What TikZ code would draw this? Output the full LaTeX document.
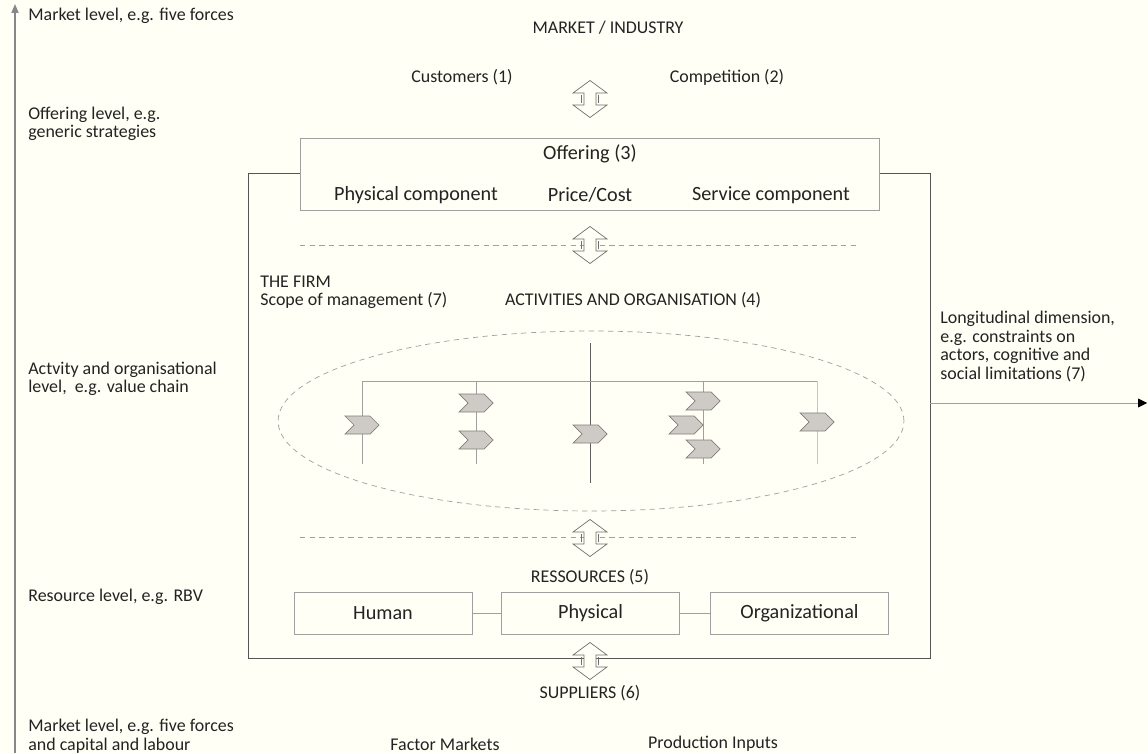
\documentclass[tikz,border=0pt]{standalone}
\usepackage{fontspec}
\setmainfont{Carlito}
\usetikzlibrary{arrows.meta}
\definecolor{paper}{RGB}{255,255,245}
\definecolor{ink}{RGB}{35,35,35}
\definecolor{frame}{RGB}{85,85,85}
\definecolor{rule}{RGB}{160,160,160}
\definecolor{chevfill}{RGB}{206,203,199}
\definecolor{chevline}{RGB}{130,127,123}

\tikzset{
  txt/.style={font=\fontsize{10.2}{10.6}\selectfont, text=ink, inner sep=0pt},
  bigtxt/.style={font=\fontsize{11.5}{13}\selectfont, text=ink, inner sep=0pt},
  leftlbl/.style={txt, anchor=west, align=left},
  resbox/.style={bigtxt, draw=rule, minimum width=3.56cm, minimum height=0.84cm},
  dashline/.style={draw=rule, dash pattern=on 3pt off 2.5pt},
  dblarr/.pic={
    \draw[rule!70!black, fill=paper, line join=miter]
      (0,-18.5) -- (17,-6) -- (6,-6) -- (6,6) -- (17,6) -- (0,18.5)
      -- (-17,6) -- (-6,6) -- (-6,-6) -- (-17,-6) -- cycle;
    \draw[rule!70!black] (-8.5,-4) -- (-8.5,4) (8.5,-4) -- (8.5,4);
  },
  chev/.pic={
    \draw[chevline, fill=chevfill, line join=miter]
      (-17,-9) -- (8,-9) -- (17,0) -- (8,9) -- (-17,9) -- (-8,0) -- cycle;
  }
}

\begin{document}
\begin{tikzpicture}[x=0.02cm, y=-0.02cm]
  \fill[paper] (0,0) rectangle (1148,753);
  \useasboundingbox (0,0) rectangle (1148,753);

  % level axis on the left
  \coordinate (axisBot) at (15,753);
  \coordinate (axisTop) at (15,4);
  \draw[rule!85!black, line width=0.8pt, -{Triangle[length=5pt,width=4pt]}] (axisBot) -- (axisTop);
  \node[leftlbl] (lvlMkt) at (28,16) {Market level, e.g. five forces};
  \node[leftlbl] (lvlOff) at (28,124) {Offering level, e.g.\\generic strategies};
  \node[leftlbl] (lvlAct) at (28,379) {Actvity and organisational\\level,\ \ e.g. value chain};
  \node[leftlbl] (lvlRes) at (28,597) {Resource level, e.g. RBV};
  \node[leftlbl] (lvlFac) at (28,736) {Market level, e.g. five forces\\and capital and labour};

  % market
  \node[txt] (market) at (608,28) {MARKET / INDUSTRY};
  \node[txt] (cust) at (462,77) {Customers (1)};
  \node[txt] (comp) at (727,77) {Competition (2)};

  % the firm
  \draw[frame] (248,173) rectangle (930,658);
  \coordinate (firmE) at (930,403);
  \coordinate (timeEnd) at (1147,403);
  \draw[rule, -{Triangle[length=5pt,width=5pt,color=black]}] (firmE) -- (timeEnd);
  \node[leftlbl] (longi) at (940,346.5) {Longitudinal dimension,\\e.g. constraints on\\actors, cognitive and\\social limitations (7)};

  % offering
  \node[draw=rule, fill=paper, minimum width=11.58cm, minimum height=1.44cm] (offer) at (589.5,174) {};
  \node[bigtxt] (offTitle) at (590,154) {Offering (3)};
  \node[bigtxt] (offPhys) at (416,195) {Physical component};
  \node[bigtxt] (offPrice) at (590,195) {Price/Cost};
  \node[bigtxt] (offServ) at (771,195) {Service component};

  \draw[dashline] (300,245) -- (857,245);
  \pic at (590,99) {dblarr};
  \pic at (590,245) {dblarr};

  \node[leftlbl] (firmTitle) at (260,282) {THE FIRM};
  \node[leftlbl] (scope) at (260,300) {Scope of management (7)};
  \node[txt] (activ) at (633,300) {ACTIVITIES AND ORGANISATION (4)};

  % activities
  \draw[dashline] (591,421) ellipse [x radius=6.26cm, y radius=1.8cm];
  \draw[rule!60!black] (590,343) -- (590,483);
  \draw[rule] (362,381) -- (817,381);
  \foreach \cx in {362,476,703} {
    \draw[rule] (\cx,381) -- (\cx,464);
  }
  \draw[rule!60] (817,381) -- (817,464);
  \foreach \cx/\cy in {362/425, 476/403, 476/440, 590/434, 703/401, 686/425, 703/449, 817/422} {
    \pic at (\cx,\cy) {chev};
  }

  % resources
  \draw[dashline] (300,537) -- (857,537);
  \pic at (590,538) {dblarr};
  \node[txt] (resTitle) at (590,577) {RESSOURCES (5)};
  \node[resbox] (human) at (383,613) {Human};
  \node[resbox] (physical) at (590.5,613) {Physical};
  \node[resbox] (organ) at (799.5,613) {Organizational};
  \draw[rule] (human) -- (physical);
  \draw[rule] (physical) -- (organ);

  % suppliers
  \pic at (590,661) {dblarr};
  \node[txt] (suppl) at (590,693) {SUPPLIERS (6)};
  \node[txt] (factor) at (445,744) {Factor Markets};
  \node[txt] (inputs) at (713,744) {Production Inputs};
\end{tikzpicture}
\end{document}
